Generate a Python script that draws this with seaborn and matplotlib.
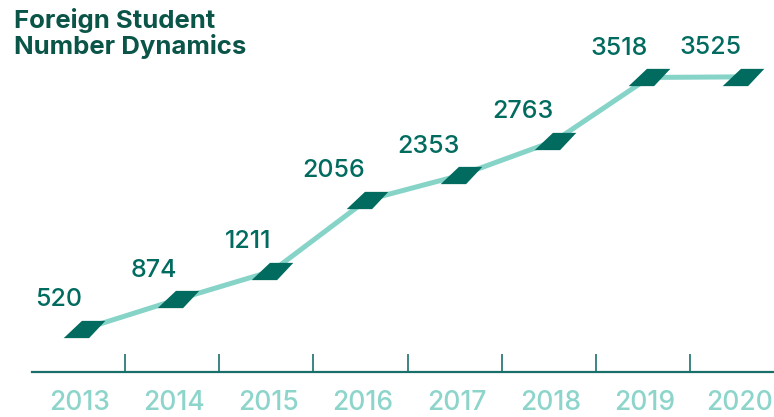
import matplotlib
matplotlib.use("Agg")
import matplotlib.pyplot as plt
import seaborn as sns
from matplotlib.path import Path

# data
years = [2013, 2014, 2015, 2016, 2017, 2018, 2019, 2020]
students = [520, 874, 1211, 2056, 2353, 2763, 3518, 3525]

dark = "#006b5e"
title_col = "#0b5548"
light = "#86d3c8"
tick_col = "#8dd5cb"
axis_col = "#1b6f6b"

sns.set_theme(style="white")
plt.rcParams["font.family"] = ["Inter", "DejaVu Sans"]

# slanted parallelogram marker
verts = [(-20.5, -8.5), (4.5, -8.5), (20.5, 8.5), (-2.5, 8.5), (-20.5, -8.5)]
para = Path(verts, [Path.MOVETO, Path.LINETO, Path.LINETO, Path.LINETO, Path.CLOSEPOLY])

fig = plt.figure(figsize=(7.74, 4.17), dpi=100)
ax = fig.add_axes([32 / 774, 45 / 417, 742 / 774, 372 / 417])

pos = list(range(len(years)))
sns.lineplot(x=pos, y=students, ax=ax, color=light, linewidth=3.6,
             marker=para, markersize=30, markerfacecolor=dark,
             markeredgewidth=0, zorder=3)

for i, v in zip(pos, students):
    ax.annotate(str(v), (i, v), xytext=(-1, 21), textcoords="offset points",
                ha="right", va="center", fontsize=18, color=dark,
                fontweight="medium")

ax.set_xlim(-0.552, 7.325)
ax.set_ylim(7, 4441)

for s in ["top", "right", "left"]:
    ax.spines[s].set_visible(False)
ax.spines["bottom"].set_color(axis_col)
ax.spines["bottom"].set_linewidth(1.6)

ax.set_xticks([i + 0.435 for i in pos[:-1]])
ax.set_xticklabels([])
ax.tick_params(axis="x", which="major", direction="in", length=13,
               width=1.2, color=axis_col, bottom=True)
ax.set_xticks([i - 0.045 for i in pos], minor=True)
ax.set_xticklabels([str(y) for y in years], minor=True)
ax.tick_params(axis="x", which="minor", length=0, pad=13,
               labelsize=19, labelcolor=tick_col)
for lab in ax.get_xticklabels(minor=True):
    lab.set_fontweight("medium")
ax.set_yticks([])
ax.set_xlabel("")
ax.set_ylabel("")

fig.text(14 / 774, 1 - 8 / 417, "Foreign Student\nNumber Dynamics",
         ha="left", va="top", fontsize=18.5, fontweight="bold",
         color=title_col, linespacing=1.05)

fig.savefig("out.png", dpi=100)
